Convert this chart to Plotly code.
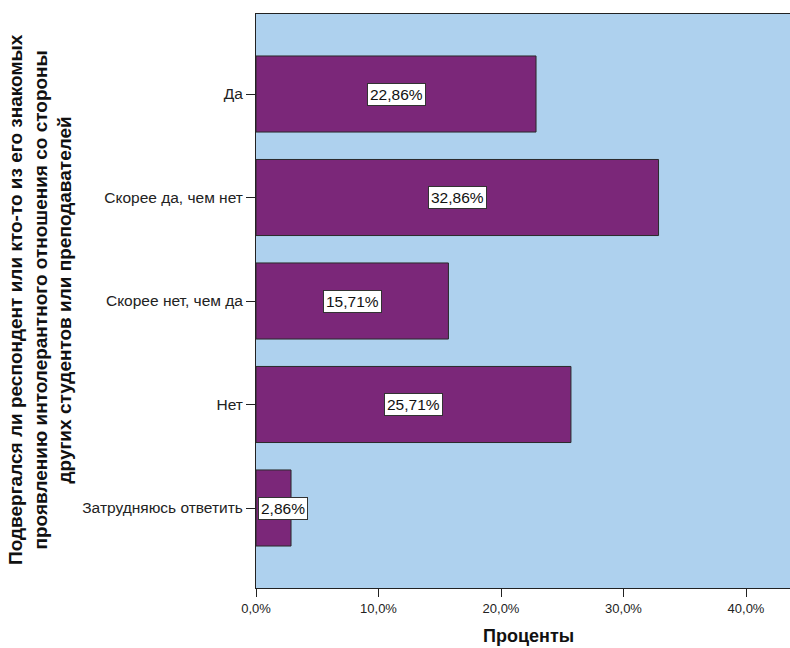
import plotly.graph_objects as go

categories = ["Да", "Скорее да, чем нет", "Скорее нет, чем да", "Нет", "Затрудняюсь ответить"]
percents = [22.86, 32.86, 15.71, 25.71, 2.86]
label_texts = ["22,86%", "32,86%", "15,71%", "25,71%", "2,86%"]
tick_vals = [0, 10, 20, 30, 40]
tick_texts = ["0,0%", "10,0%", "20,0%", "30,0%", "40,0%"]

y_title = ("Подвергался ли респондент или кто-то из его знакомых<br>"
           "проявлению интолерантного отношения со стороны<br>"
           "других студентов или преподавателей")
x_title = "Проценты"

W, H = 790, 648
L, R, T, B = 256, 0, 14, 60
pw = W - L - R
ph = H - T - B
FONT = "Liberation Sans, Arial, sans-serif"

fig = go.Figure()
fig.add_trace(go.Bar(
    x=percents, y=categories, orientation="h",
    marker=dict(color="#7B2779", line=dict(color="#2a2a2a", width=1)),
    width=0.735, hoverinfo="skip",
))

for cat, v, t in zip(categories, percents, label_texts):
    fig.add_annotation(
        x=max(v / 2, 2.2), y=cat, xref="x", yref="y", text=t, showarrow=False,
        font=dict(family=FONT, size=15.5, color="#111"),
        bgcolor="white", bordercolor="#333", borderwidth=1, borderpad=2,
    )

fig.add_annotation(
    x=(40 - L) / pw, y=(H - B - 300) / ph, xref="paper", yref="paper", text=y_title,
    textangle=-90, showarrow=False, xanchor="center", yanchor="middle",
    font=dict(family=FONT, size=19, color="#111", weight="bold"),
)
fig.add_annotation(
    x=(528 - L) / pw, y=(H - B - 636) / ph, xref="paper", yref="paper",
    text=x_title, showarrow=False, xanchor="center", yanchor="middle",
    font=dict(family=FONT, size=18, color="#111", weight="bold"),
)

fig.update_layout(
    width=W, height=H,
    margin=dict(l=L, r=R, t=T, b=B),
    paper_bgcolor="white", plot_bgcolor="#AED1EE",
    showlegend=False,
)
fig.update_xaxes(
    range=[0, (W - L) / 12.25], tickvals=tick_vals, ticktext=tick_texts,
    showgrid=False, zeroline=False, showline=True, mirror=True,
    linecolor="#222", linewidth=1, ticks="outside", ticklen=8, tickcolor="#222",
    tickfont=dict(family=FONT, size=13, color="#222"),
)
fig.update_yaxes(
    categoryorder="array", categoryarray=categories, autorange=False,
    range=[4.773, -0.773],
    showgrid=False, zeroline=False, showline=True, linecolor="#222", linewidth=1,
    ticks="outside", ticklen=9, tickcolor="#222",
    tickfont=dict(family=FONT, size=15.5, color="#222"),
)

fig.write_html(
    "out.html",
    config={"displayModeBar": False},
    post_script="document.body.style.margin='0';document.body.style.overflow='hidden';",
)
